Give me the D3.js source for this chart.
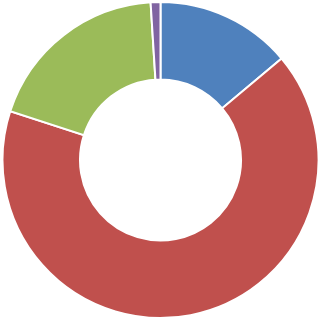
<!DOCTYPE html>
<html>
<head>
<meta charset="utf-8">
<script src="https://cdn.jsdelivr.net/npm/d3@7"></script>
<style>
  body { margin: 0; background: #fff; }
</style>
</head>
<body>
<div id="chart"></div>
<script>
// Slice data (percent)
var categories = ["A", "B", "C", "D"];
var values = [13.9, 66.1, 19.0, 1.0];
var colors = ["#4F81BD", "#C0504D", "#9BBB59", "#8064A2"];

var svgWidth = 320;
var svgHeight = 320;
var outerRadius = 158;
var innerRadius = 80.5;

var svg = d3.select("#chart")
  .append("svg")
  .attr("width", svgWidth)
  .attr("height", svgHeight);

var chartGroup = svg.append("g")
  .attr("transform", "translate(160.5, 160)");

var pie = d3.pie()
  .sort(null)
  .value(function(d) { return d; });

var arc = d3.arc()
  .innerRadius(innerRadius)
  .outerRadius(outerRadius);

var color = d3.scaleOrdinal()
  .domain(categories)
  .range(colors);

chartGroup.selectAll("path")
  .data(pie(values))
  .enter()
  .append("path")
  .attr("d", arc)
  .attr("fill", function(d, i) { return color(categories[i]); })
  .attr("stroke", "#fff")
  .attr("stroke-width", 2);
</script>
</body>
</html>
